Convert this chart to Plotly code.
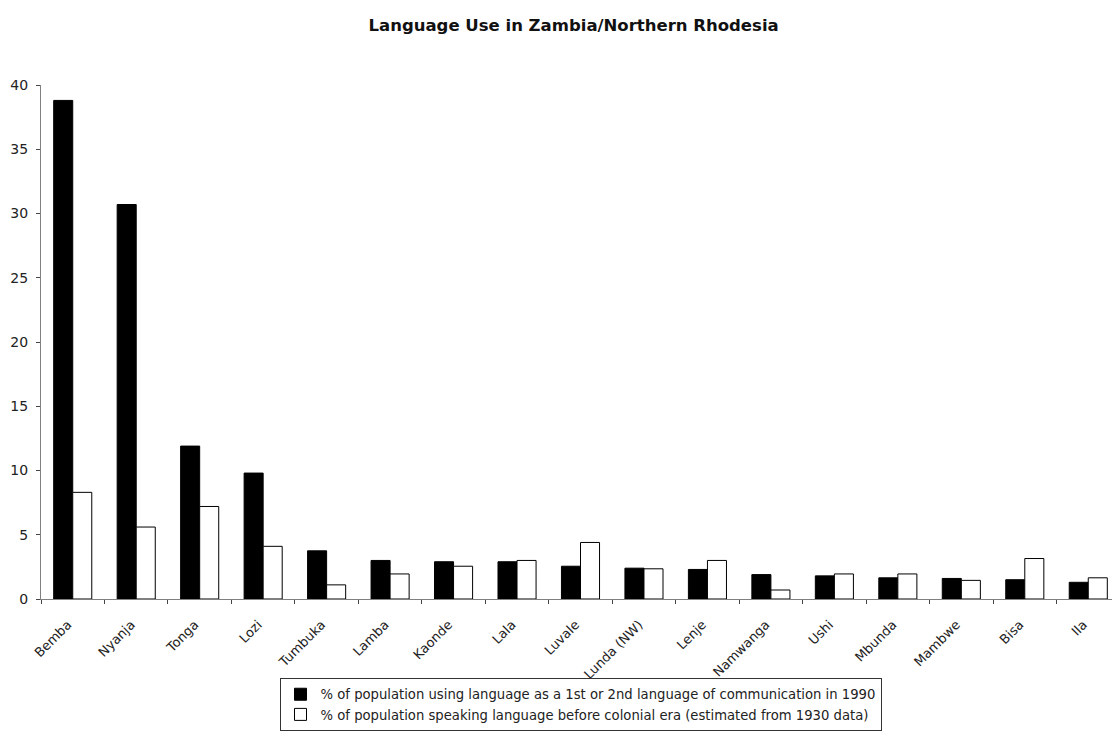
import plotly.graph_objects as go

languages = ["Bemba", "Nyanja", "Tonga", "Lozi", "Tumbuka", "Lamba", "Kaonde", "Lala",
             "Luvale", "Lunda (NW)", "Lenje", "Namwanga", "Ushi", "Mbunda", "Mambwe", "Bisa", "Ila"]
use_1990 = [38.8, 30.7, 11.9, 9.8, 3.75, 3.0, 2.9, 2.9, 2.55, 2.4, 2.3, 1.9, 1.8, 1.65, 1.6, 1.5, 1.3]
pre_colonial = [8.3, 5.6, 7.2, 4.1, 1.1, 1.95, 2.55, 3.0, 4.4, 2.35, 3.0, 0.7, 1.95, 1.95, 1.45, 3.15, 1.65]
series_names = [
    "% of population using language as a 1st or 2nd language of communication in 1990",
    "% of population speaking language before colonial era (estimated from 1930 data)",
]
y_ticks = [0, 5, 10, 15, 20, 25, 30, 35, 40]

FONT = "DejaVu Sans, Liberation Sans, Arial, sans-serif"
AXIS = "#808080"

fig = go.Figure()
fig.add_trace(go.Bar(x=languages, y=use_1990, name=series_names[0],
                     marker=dict(color="black", line=dict(color="black", width=1))))
fig.add_trace(go.Bar(x=languages, y=pre_colonial, name=series_names[1],
                     marker=dict(color="white", line=dict(color="black", width=1))))

fig.update_layout(
    width=1120, height=755,
    paper_bgcolor="white", plot_bgcolor="white",
    margin=dict(l=33, r=8, t=77, b=164, autoexpand=False),
    barmode="group", bargap=0.4, bargroupgap=0,
    font=dict(family=FONT, color="black", size=12),
    title=dict(text="<b>Language Use in Zambia/Northern Rhodesia</b>",
               x=0.505, xanchor="center", y=1 - 17 / 755, yanchor="middle",
               font=dict(family=FONT, size=16.5, color="#111")),
    showlegend=True,
    legend=dict(x=0.5, xanchor="center", y=-0.154, yanchor="top",
                bordercolor="#333", borderwidth=1, bgcolor="white",
                font=dict(family=FONT, size=13.2, color="#222"),
                itemwidth=30, tracegroupgap=2),
)
fig.update_xaxes(
    type="category", showline=True, linecolor=AXIS, linewidth=1,
    ticks="outside", tickson="boundaries", ticklen=4, tickcolor="#444",
    tickangle=-45, tickfont=dict(family=FONT, size=13, color="#222"),
    ticklabelstandoff=12, ticklabelshift=-5, automargin=False,
    showgrid=False, zeroline=False,
)
fig.update_yaxes(
    range=[0, 40], tickvals=y_ticks, showline=True, linecolor=AXIS, linewidth=1,
    ticks="outside", ticklen=4, tickcolor="#444",
    tickfont=dict(family=FONT, size=14, color="#222"),
    ticklabelstandoff=5, automargin=False,
    showgrid=False, zeroline=False,
)

fig.write_html("out.html")
